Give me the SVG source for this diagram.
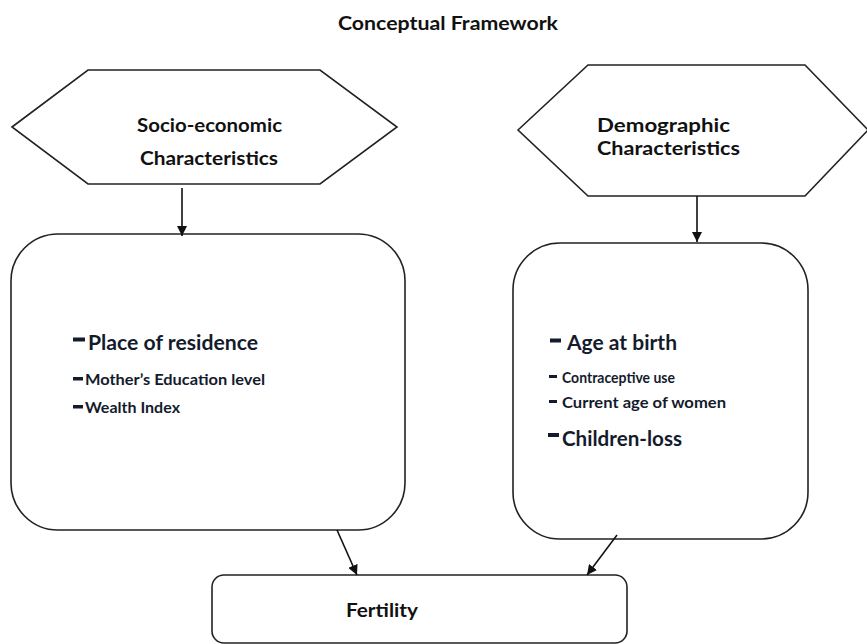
<svg xmlns="http://www.w3.org/2000/svg" width="867" height="644" viewBox="0 0 867 644">
<style>
.shape{fill:#fff;stroke:#222;stroke-width:1.6}
.conn{fill:none;stroke:#111;stroke-width:1.6}
.h{font-family:Lato,"Open Sans","Liberation Sans",sans-serif;font-weight:bold;fill:#111}
.li{font-family:Lato,"Open Sans","Liberation Sans",sans-serif;font-weight:bold;fill:#141b2d}
.dash{fill:#141b2d}
</style>
<defs>
<marker id="ah" viewBox="0 0 10 10" refX="10" refY="5" markerWidth="10" markerHeight="10" markerUnits="userSpaceOnUse" orient="auto">
<path d="M0,0 L10,5 L0,10 z" fill="#111"/>
</marker>
</defs>
<rect width="867" height="644" fill="#fff"/>
<text class="h" x="338" y="30" font-size="18" textLength="220" lengthAdjust="spacingAndGlyphs">Conceptual Framework</text>

<g id="socio">
<polygon class="shape" points="12,127 88,70 320,70 397,127 320,184 88,184"/>
<text class="h" x="137" y="132" font-size="18" textLength="145" lengthAdjust="spacingAndGlyphs">Socio-economic</text>
<text class="h" x="140" y="165" font-size="18" textLength="138" lengthAdjust="spacingAndGlyphs">Characteristics</text>
</g>

<g id="demo">
<polygon class="shape" points="518,130 588,65 805,65 868,130 805,196 588,196"/>
<text class="h" x="597" y="132" font-size="18" textLength="133" lengthAdjust="spacingAndGlyphs">Demographic</text>
<text class="h" x="597" y="155" font-size="18" textLength="143" lengthAdjust="spacingAndGlyphs">Characteristics</text>
</g>

<g id="socio-list">
<rect class="shape" x="11" y="234" width="394" height="296" rx="47" ry="47"/>
<rect class="dash" x="73" y="337.5" width="12" height="4"/>
<text class="li" x="88" y="350" font-size="20" textLength="170" lengthAdjust="spacingAndGlyphs">Place of residence</text>
<rect class="dash" x="73" y="377" width="10" height="3.5"/>
<text class="li" x="85" y="385" font-size="15.5" textLength="180" lengthAdjust="spacingAndGlyphs">Mother’s Education level</text>
<rect class="dash" x="73" y="405" width="10" height="3.5"/>
<text class="li" x="85" y="413" font-size="15.5" textLength="95" lengthAdjust="spacingAndGlyphs">Wealth Index</text>
</g>

<g id="demo-list">
<rect class="shape" x="513" y="243" width="295" height="296" rx="47" ry="47"/>
<rect class="dash" x="550" y="338.5" width="11" height="4"/>
<text class="li" x="567" y="350" font-size="20" textLength="110" lengthAdjust="spacingAndGlyphs">Age at birth</text>
<rect class="dash" x="549" y="375" width="8" height="3"/>
<text class="li" x="562" y="383" font-size="15" textLength="113" lengthAdjust="spacingAndGlyphs">Contraceptive use</text>
<rect class="dash" x="549" y="400" width="8" height="3"/>
<text class="li" x="562" y="408" font-size="15" textLength="164" lengthAdjust="spacingAndGlyphs">Current age of women</text>
<rect class="dash" x="548" y="433" width="11" height="4"/>
<text class="li" x="562" y="446" font-size="20" textLength="120" lengthAdjust="spacingAndGlyphs">Children-loss</text>
</g>

<g id="fertility">
<rect class="shape" x="212" y="575" width="415" height="68" rx="12" ry="12"/>
<text class="h" x="346" y="617" font-size="19" textLength="72" lengthAdjust="spacingAndGlyphs">Fertility</text>
</g>

<g id="connectors">
<line class="conn" x1="182" y1="188" x2="182" y2="236" marker-end="url(#ah)"/>
<line class="conn" x1="697" y1="196" x2="697" y2="242" marker-end="url(#ah)"/>
<line class="conn" x1="337" y1="530" x2="357" y2="575" marker-end="url(#ah)"/>
<line class="conn" x1="617" y1="535" x2="587" y2="575" marker-end="url(#ah)"/>
</g>
</svg>
